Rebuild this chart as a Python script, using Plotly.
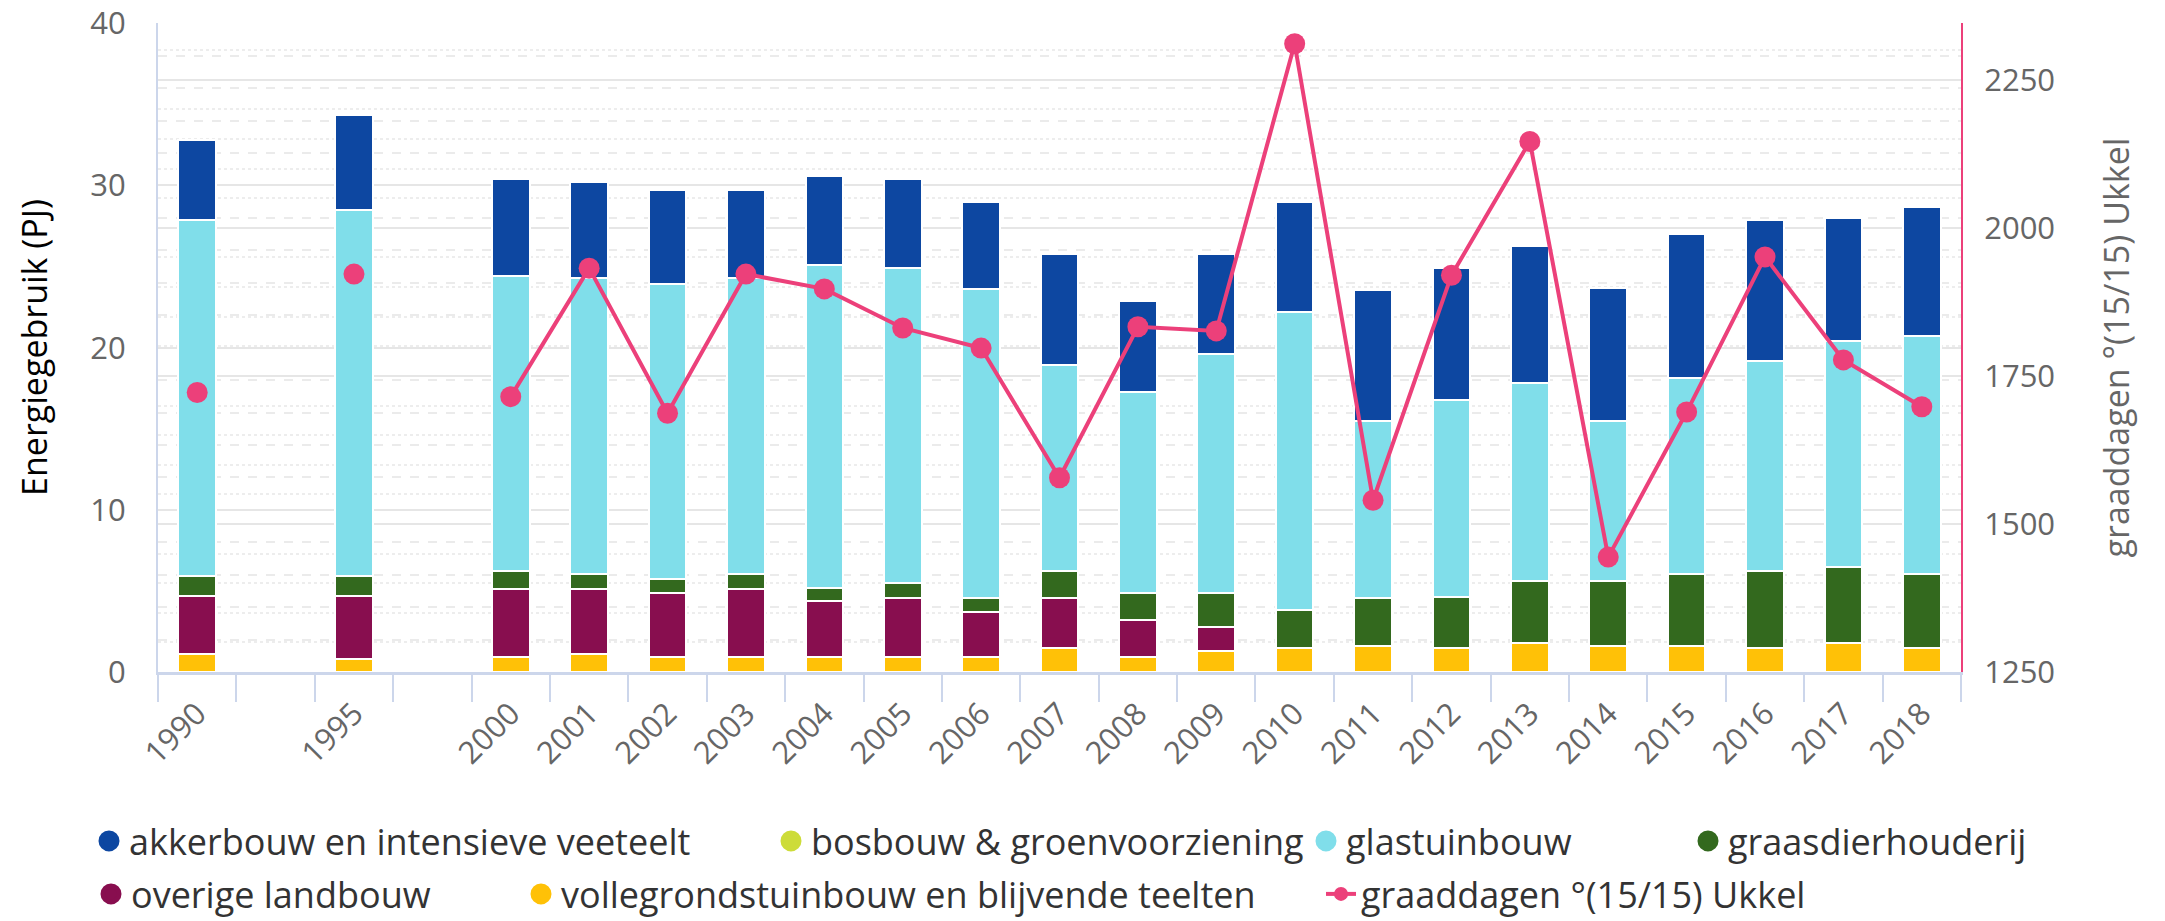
import plotly.graph_objects as go

categories = ["1990", " ", "1995", "  ", "2000", "2001", "2002", "2003", "2004", "2005",
              "2006", "2007", "2008", "2009", "2010", "2011", "2012", "2013", "2014",
              "2015", "2016", "2017", "2018"]

vollegrond = [1.1, None, 0.8, None, 0.95, 1.1, 0.95, 0.95, 0.95, 0.95, 0.95, 1.45, 0.95, 1.3,
              1.45, 1.6, 1.45, 1.8, 1.6, 1.6, 1.45, 1.8, 1.45]
overige = [3.6, None, 3.9, None, 4.15, 4.0, 3.95, 4.15, 3.4, 3.6, 2.75, 3.1, 2.25, 1.5,
           0, 0, 0, 0, 0, 0, 0, 0, 0]
graasdier = [1.25, None, 1.25, None, 1.15, 0.95, 0.85, 0.95, 0.85, 0.95, 0.85, 1.7, 1.7, 2.1,
             2.4, 2.95, 3.2, 3.8, 4.0, 4.45, 4.8, 4.65, 4.6]
bosbouw = [None] * 23
glastuin = [21.95, None, 22.55, None, 18.15, 18.25, 18.15, 18.25, 19.9, 19.4, 19.05, 12.7,
            12.35, 14.7, 18.35, 10.95, 12.1, 12.2, 9.9, 12.05, 12.95, 13.95, 14.65]
akkerbouw = [4.9, None, 5.85, None, 6.0, 5.9, 5.85, 5.45, 5.5, 5.5, 5.4, 6.85, 5.65, 6.2,
             6.8, 8.05, 8.15, 8.5, 8.2, 8.9, 8.65, 7.6, 7.95]
graaddagen = [1722, None, 1922, None, 1715, 1932, 1687, 1922, 1897, 1831, 1797, 1578, 1833,
              1826, 2311, 1540, 1920, 2146, 1444, 1689, 1951, 1777, 1698]

names = {
    "akker": "akkerbouw en intensieve veeteelt",
    "bos": "bosbouw & groenvoorziening",
    "glas": "glastuinbouw",
    "graas": "graasdierhouderij",
    "over": "overige landbouw",
    "voll": "vollegrondstuinbouw en blijvende teelten",
    "line": "graaddagen °(15/15) Ukkel",
}
colors = {
    "akker": "#0d47a1",
    "bos": "#cddc39",
    "glas": "#80deea",
    "graas": "#33691e",
    "over": "#880e4f",
    "voll": "#ffc107",
    "line": "#ec407a",
}

FONT = "Open Sans, Verdana, sans-serif"
W, H = 2165, 921
fig = go.Figure()

stack = [("voll", vollegrond), ("over", overige), ("graas", graasdier),
         ("glas", glastuin), ("bos", bosbouw), ("akker", akkerbouw)]
for key, vals in stack:
    fig.add_trace(go.Bar(
        x=categories, y=vals, name=names[key], showlegend=False,
        marker=dict(color=colors[key], line=dict(color="white", width=2)),
    ))

fig.add_trace(go.Scatter(
    x=categories, y=graaddagen, yaxis="y2", name=names["line"], showlegend=False,
    mode="lines+markers", connectgaps=False,
    line=dict(color=colors["line"], width=4),
    marker=dict(color=colors["line"], size=21),
))

# legend layout: (key, legend id, symbol centre x px, row centre y px)
legend_items = [
    ("akker", "legend", 108, 841), ("bos", "legend2", 790, 841),
    ("glas", "legend3", 1325, 841), ("graas", "legend4", 1707, 841),
    ("over", "legend5", 110, 894), ("voll", "legend6", 540, 894),
    ("line", "legend7", 1340, 894),
]
legend_layout = {}
for key, lg, sx, sy in legend_items:
    if key == "line":
        fig.add_trace(go.Scatter(
            x=[None], y=[None], yaxis="y2", mode="lines+markers", name=names[key], legend=lg,
            line=dict(color=colors[key], width=4),
            marker=dict(color=colors[key], size=14),
        ))
    else:
        fig.add_trace(go.Scatter(
            x=[None], y=[None], mode="markers", name=names[key], legend=lg,
            marker=dict(color=colors[key], size=16, symbol="circle",
                        line=dict(color=colors[key], width=5)),
        ))
    legend_layout[lg] = dict(
        orientation="h", xref="container", yref="container",
        x=(sx - 19) / W, xanchor="left", y=1 - sy / H, yanchor="middle",
        font=dict(size=36, color="#333333", family=FONT), itemwidth=30,
        bgcolor="rgba(0,0,0,0)",
    )

fig.update_layout(
    width=W, height=H,
    margin=dict(l=158, r=204, t=23, b=249, autoexpand=False),
    plot_bgcolor="white", paper_bgcolor="white",
    barmode="stack", bargap=0.52,
    font=dict(family=FONT, color="#333333"),
    xaxis=dict(
        type="category", categoryorder="array", categoryarray=categories,
        tickangle=-45, tickfont=dict(size=31, color="#666666"),
        tickson="boundaries", ticks="outside", ticklen=27, tickwidth=2, tickcolor="#ccd6eb",
        showline=True, linecolor="#ccd6eb", linewidth=3, showgrid=False,
        range=[-0.5, 22.5], fixedrange=True, ticklabelstandoff=8,
    ),
    yaxis=dict(
        range=[0, 40.02], tickvals=[0, 10, 20, 30, 40], tickfont=dict(size=31, color="#666666"),
        title=dict(text="Energiegebruik (PJ)", font=dict(size=34, color="#000000"), standoff=32),
        showgrid=True, gridcolor="#e6e6e6", gridwidth=2,
        minor=dict(dtick=2, showgrid=True, gridcolor="#ebebeb", gridwidth=2, griddash="dash"),
        showline=True, linecolor="#ccd6eb", linewidth=2, zeroline=False,
        ticklabelstandoff=24, ticklabeloverflow="allow",
    ),
    yaxis2=dict(
        overlaying="y", side="right", range=[1250, 2346], tickvals=[1250, 1500, 1750, 2000, 2250],
        tickfont=dict(size=31, color="#666666"),
        title=dict(text="graaddagen °(15/15) Ukkel", font=dict(size=34, color="#666666"), standoff=51),
        showgrid=True, gridcolor="#e6e6e6", gridwidth=2,
        minor=dict(dtick=50, showgrid=True, gridcolor="#ededed", gridwidth=2, griddash="dot"),
        showline=True, linecolor="#ec407a", linewidth=2, zeroline=False,
        ticklabelstandoff=15, ticklabeloverflow="allow",
    ),
    **legend_layout,
)

fig.write_html("out.html", config={"displayModeBar": False},
               post_script="document.body.style.margin='0px';")
